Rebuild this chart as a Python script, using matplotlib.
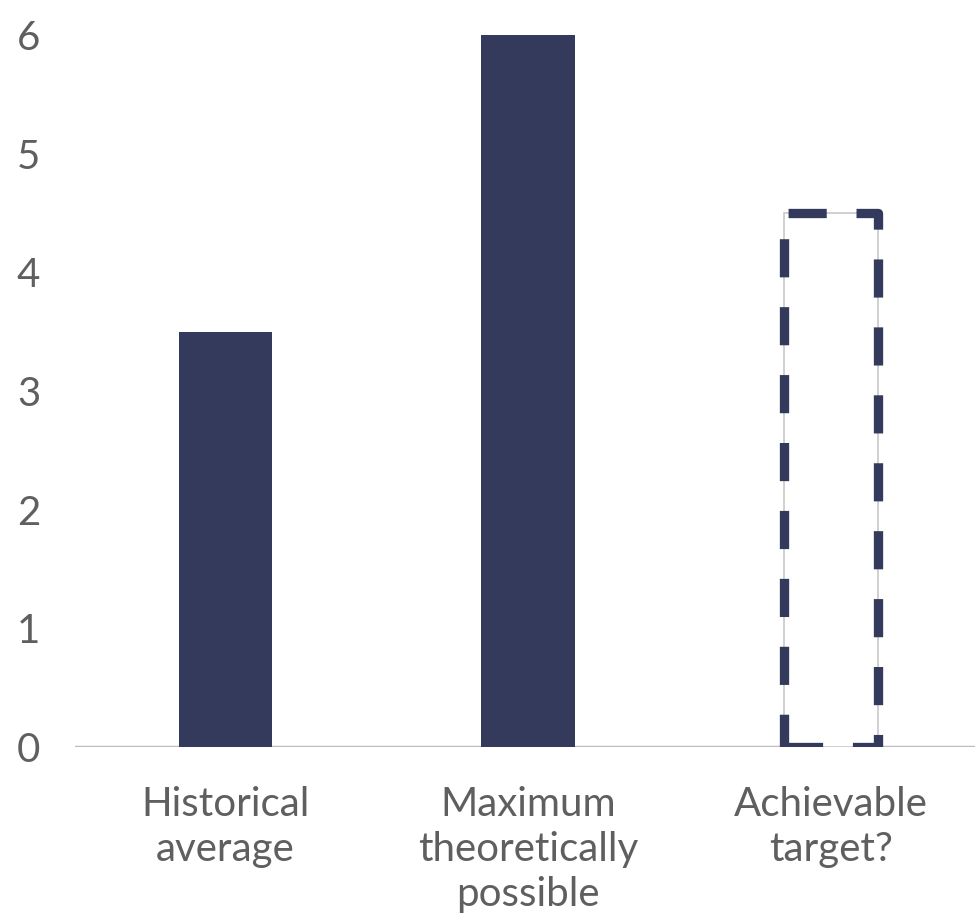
import matplotlib.pyplot as plt

# Category labels and bar heights
categories = ["Historical\naverage", "Maximum\ntheoretically\npossible", "Achievable\ntarget?"]
solid_values = [3.5, 6.0]
target_value = 4.5
yticks = [0, 1, 2, 3, 4, 5, 6]

navy = "#333a5b"
text_grey = "#5f5f5f"

plt.rcParams['font.family'] = ['Lato', 'DejaVu Sans']

fig = plt.figure(figsize=(9.75, 9.14), dpi=100)
ax = fig.add_axes([75 / 975, 1 - 747 / 914, 900 / 975, (747 - 35) / 914])

x = list(range(len(categories)))
width = 0.31

# solid bars
ax.bar(x[:2], solid_values, width=width, color=navy, zorder=2)

# target bar: thin grey outline with thick dashed navy outline on top
ax.bar(x[2], target_value, width=width, facecolor="white", edgecolor="#c8c8c8",
       linewidth=1.2, zorder=2)
ax.bar(x[2], target_value, width=width, facecolor="none", edgecolor=navy,
       linewidth=6.7, linestyle=(7.25, (4.1, 3.2)), joinstyle="round", zorder=3)

ax.axhline(0, color="#bfbfbf", linewidth=2.5, zorder=1)

ax.set_xlim(-0.497, 2.476)
ax.set_ylim(0, 6)
ax.set_yticks(yticks)
ax.set_xticks(x)
ax.set_xticklabels(categories, linespacing=1.27)

for side in ["top", "right", "left", "bottom"]:
    ax.spines[side].set_visible(False)

ax.tick_params(axis="both", length=0, labelsize=29, labelcolor=text_grey)
ax.tick_params(axis="y", pad=25)
ax.tick_params(axis="x", pad=28)

plt.savefig("out.png", dpi=100)
